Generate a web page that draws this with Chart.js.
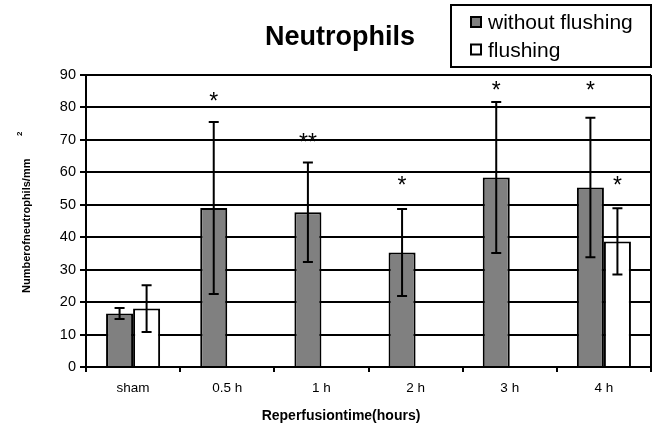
<!DOCTYPE html>
<html>
<head>
<meta charset="utf-8">
<script src="https://cdn.jsdelivr.net/npm/chart.js@4.4.0/dist/chart.umd.min.js"></script>
<style>
html, body { margin: 0; padding: 0; background: #fff; }
#wrap { width: 655px; height: 427px; position: relative; }
</style>
</head>
<body>
<div id="wrap"><canvas id="chart"></canvas></div>
<script>
var categories = ["sham", "0.5 h", "1 h", "2 h", "3 h", "4 h"]
var withoutFlushing = [16.5, 49, 47.7, 35.3, 58.4, 55.3]
var withoutFlushingErr = [1.7, 26.5, 15.3, 13.4, 23.3, 21.5]
var flushing = [18, null, null, null, null, 38.7]
var flushingErr = [7.2, null, null, null, null, 10.2]
// significance marks and the value they sit at
var starsWithout = ["", "*", "**", "*", "*", "*"]
var starsWithoutAt = [null, 82.6, 70, 56.7, 86, 86]
var starsFlushing = ["", "", "", "", "", "*"]
var starsFlushingAt = [null, null, null, null, null, 56.7]
var yMin = 0, yMax = 90, yStep = 10

var FONT = "'Liberation Sans', Arial, sans-serif"

var extras = {
    id: 'extras',
    afterDatasetsDraw: function(chart){
        var ctx = chart.ctx
        var y = chart.scales.y
        var area = chart.chartArea
        var errs = [withoutFlushingErr, flushingErr]
        chart.data.datasets.forEach(function(ds, di){
            var meta = chart.getDatasetMeta(di)
            meta.data.forEach(function(bar, i){
                var v = ds.data[i]
                if(v == null) return
                var e = errs[di][i]
                var top = y.getPixelForValue(v + e)
                var bot = y.getPixelForValue(v - e)
                ctx.save()
                ctx.strokeStyle = '#000'
                ctx.lineWidth = 2
                ctx.beginPath()
                ctx.moveTo(bar.x, top); ctx.lineTo(bar.x, bot)
                ctx.moveTo(bar.x - 5, top); ctx.lineTo(bar.x + 5, top)
                ctx.moveTo(bar.x - 5, bot); ctx.lineTo(bar.x + 5, bot)
                ctx.stroke()
                ctx.restore()
            })
        })
        // asterisks
        var marks = [[starsWithout, starsWithoutAt], [starsFlushing, starsFlushingAt]]
        ctx.save()
        ctx.fillStyle = '#000'
        ctx.font = "23px " + FONT
        ctx.textAlign = 'center'
        ctx.textBaseline = 'alphabetic'
        marks.forEach(function(m, di){
            var meta = chart.getDatasetMeta(di)
            m[0].forEach(function(txt, i){
                if(!txt) return
                var x = meta.data[i].x
                var py = y.getPixelForValue(m[1][i]) + 10
                ctx.fillText(txt, x, py)
            })
        })
        ctx.restore()
        // right frame line
        ctx.save()
        ctx.strokeStyle = '#000'
        ctx.lineWidth = 2
        ctx.beginPath()
        ctx.moveTo(area.right, area.top)
        ctx.lineTo(area.right, area.bottom)
        ctx.stroke()
        ctx.restore()
    },
    afterDraw: function(chart){
        var ctx = chart.ctx
        ctx.save()
        ctx.fillStyle = '#000'
        // title
        ctx.font = "bold 27px " + FONT
        ctx.textAlign = 'center'
        ctx.textBaseline = 'alphabetic'
        ctx.fillText("Neutrophils", 340, 45)
        // x axis title
        ctx.font = "bold 14px " + FONT
        ctx.fillText("Reperfusiontime(hours)", 341, 420)
        // y axis title, rotated, with superscript 2
        ctx.save()
        ctx.translate(29.5, 293)
        ctx.rotate(-Math.PI / 2)
        ctx.textAlign = 'left'
        ctx.font = "bold 11px " + FONT
        ctx.fillText("Numberofneutrophils/mm", 0, 0)
        ctx.font = "bold 8px " + FONT
        ctx.fillText("2", 157, -8)
        ctx.restore()
        // legend
        ctx.strokeStyle = '#000'
        ctx.lineWidth = 2
        ctx.strokeRect(451, 5, 200, 62)
        ctx.font = "21px " + FONT
        ctx.textAlign = 'left'
        var rows = [17, 44.5]
        chart.data.datasets.forEach(function(ds, i){
            ctx.fillStyle = ds.backgroundColor
            ctx.fillRect(471, rows[i], 10, 10)
            ctx.strokeRect(471, rows[i], 10, 10)
            ctx.fillStyle = '#000'
            ctx.fillText(ds.label, 488, rows[i] + 12)
        })
        ctx.restore()
    }
}

new Chart(document.getElementById("chart"), {
    type: 'bar',
    data: {
        labels: categories,
        datasets: [{
            label: "without flushing",
            data: withoutFlushing,
            backgroundColor: '#808080',
            borderColor: '#000',
            borderWidth: 2
        }, {
            label: "flushing",
            data: flushing,
            backgroundColor: '#ffffff',
            borderColor: '#000',
            borderWidth: 2
        }]
    },
    options: {
        animation: false,
        responsive: true,
        maintainAspectRatio: false,
        layout: {padding: {top: 75, left: 0, right: 4, bottom: 0}},
        datasets: {bar: {categoryPercentage: 0.574, barPercentage: 1}},
        plugins: {legend: {display: false}, title: {display: false}, tooltip: {enabled: false}},
        scales: {
            x: {
                grid: {drawOnChartArea: false, drawTicks: true, tickLength: 5, color: '#000', lineWidth: 2, offset: true},
                border: {color: '#000', width: 2},
                ticks: {color: '#000', font: {size: 13.5, family: FONT}, padding: 8, maxRotation: 0, autoSkip: false},
                afterFit: function(s){ s.height = 60 }
            },
            y: {
                min: yMin, max: yMax,
                ticks: {stepSize: yStep, color: '#000', font: {size: 14.5, family: FONT}, padding: 4},
                grid: {color: '#000', lineWidth: 2, tickLength: 6},
                border: {color: '#000', width: 2},
                afterFit: function(s){ s.width = 86 }
            }
        }
    },
    plugins: [extras]
})
</script>
</body>
</html>
